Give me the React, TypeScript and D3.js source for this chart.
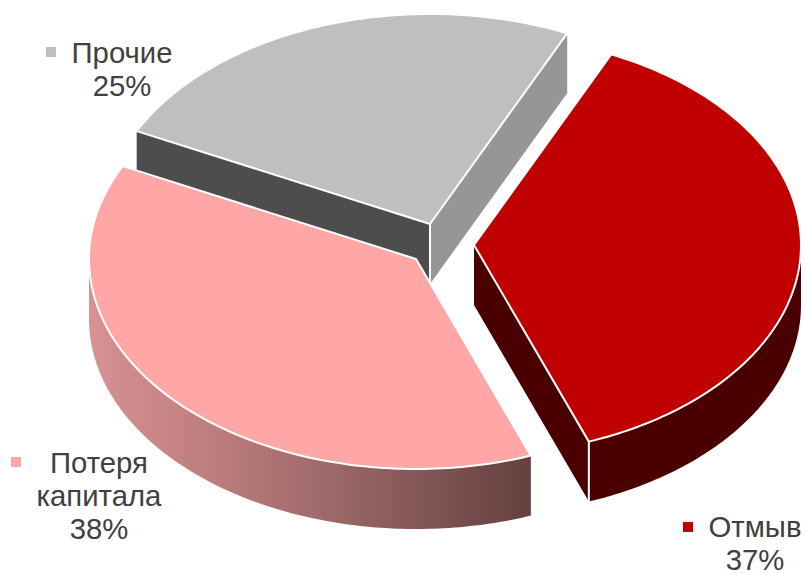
import React from "react";
import * as d3 from "d3";

const categories = ["Отмыв", "Потеря капитала", "Прочие"];
const values = [37.4, 38, 24.6];
const topColors = ["#C00000", "#FFA6A6", "#BFBFBF"];
const sideColors = ["#4B0000", "url(#pinkSide)", "#7f7f7f"];
const cutColors = ["#4B0000", "#65403F", "#4D4D4D"];
const cutColorsEnd = ["#4B0000", "#65403F", "#969696"];
const apexX = [474, 416, 430];
const apexY = [245, 259, 224];
const drawOrder = [2, 0, 1];
const labelLines = [["Отмыв"], ["Потеря", "капитала"], ["Прочие"]];

const RX = 327;
const RY = 210;
const DEPTH = 60;
const START = (24.8 * Math.PI) / 180;

const pie = d3.pie<number>().sort(null).startAngle(START).endAngle(START + 2 * Math.PI);
const arcs = pie(values);
const pct = d3.format(".0f");
const toPath = d3.line<[number, number]>();

type P = [number, number];
function rim(i: number, a0: number, a1: number, dy = 0): P[] {
  return d3.range(0, 121).map((k) => {
    const a = a0 + ((a1 - a0) * k) / 120;
    return [apexX[i] + RX * Math.sin(a), apexY[i] - RY * Math.cos(a) + dy] as P;
  });
}
const strokeW = 2;

// Text blocks: [square x, square y, line centre x, first baseline]
const labelPlace = [
  { sx: 683, sy: 522, cx: 755, by: 537 },
  { sx: 11, sy: 457, cx: 99, by: 473 },
  { sx: 46, sy: 47, cx: 122, by: 63 },
];

function Slice({ i }: { i: number }) {
  const a0 = arcs[i].startAngle;
  const a1 = arcs[i].endAngle;
  const apex: P = [apexX[i], apexY[i]];
  const apexLow: P = [apexX[i], apexY[i] + DEPTH];
  const top = rim(i, a0, a1);
  const topPath = toPath([apex, ...top])! + "Z";
  const visA0 = Math.max(a0, Math.PI / 2);
  const visA1 = Math.min(a1, (3 * Math.PI) / 2);
  const parts: React.ReactNode[] = [];

  // outer wall, only the front half of the ellipse can be seen
  if (visA1 > visA0) {
    const wall = [...rim(i, visA0, visA1), ...rim(i, visA0, visA1, DEPTH).reverse()];
    parts.push(<path key="wall" d={toPath(wall)! + "Z"} fill={sideColors[i]} />);
  }
  if (i === 2) {
    const endPt = top[top.length - 1];
    const startPt = top[0];
    parts.push(
      <path
        key="cutA"
        d={toPath([apex, startPt, [startPt[0], startPt[1] + DEPTH], apexLow])! + "Z"}
        fill={cutColors[i]}
      />
    );
    parts.push(
      <path
        key="cutB"
        d={toPath([apex, endPt, [endPt[0], endPt[1] + DEPTH], apexLow])! + "Z"}
        fill={cutColorsEnd[i]}
      />
    );
    parts.push(
      <path key="edge" d={toPath([apex, apexLow])!} stroke="#fff" strokeWidth={strokeW} fill="none" />
    );
  }
  if (i === 0) {
    const endPt = top[top.length - 1];
    parts.push(
      <path
        key="cutB"
        d={toPath([apex, endPt, [endPt[0], endPt[1] + DEPTH], apexLow])! + "Z"}
        fill={cutColors[i]}
      />
    );
    parts.push(
      <path
        key="edge"
        d={toPath([endPt, [endPt[0], endPt[1] + DEPTH]])!}
        stroke="#fff"
        strokeWidth={strokeW}
        fill="none"
      />
    );
  }
  return (
    <g>
      {parts}
      <path d={topPath} fill={topColors[i]} stroke="#fff" strokeWidth={strokeW} strokeLinejoin="round" />
    </g>
  );
}

export default function App() {
  return (
    <svg
      width={807}
      height={574}
      viewBox="0 0 807 574"
      style={{ position: "absolute", left: 0, top: 0, background: "#fff" }}
      fontFamily="'Liberation Sans', Arial, sans-serif"
    >
      <defs>
        <linearGradient id="pinkSide" gradientUnits="userSpaceOnUse" x1={89} y1={0} x2={530} y2={0}>
          <stop offset="0" stopColor="#D79292" />
          <stop offset="0.3" stopColor="#BC7C7C" />
          <stop offset="0.65" stopColor="#8F6060" />
          <stop offset="1" stopColor="#65403F" />
        </linearGradient>
      </defs>
      {drawOrder.map((i) => (
        <Slice key={categories[i]} i={i} />
      ))}
      {categories.map((c, i) => {
        const p = labelPlace[i];
        const lines = [...labelLines[i], `${pct(values[i])}%`];
        return (
          <g key={c}>
            <rect x={p.sx} y={p.sy} width={10} height={10} fill={topColors[i]} />
            {lines.map((t, k) => (
              <text
                key={t}
                x={p.cx}
                y={p.by + k * 33.2}
                textAnchor="middle"
                fontSize={29.3}
                fill="#404040"
              >
                {t}
              </text>
            ))}
          </g>
        );
      })}
    </svg>
  );
}
